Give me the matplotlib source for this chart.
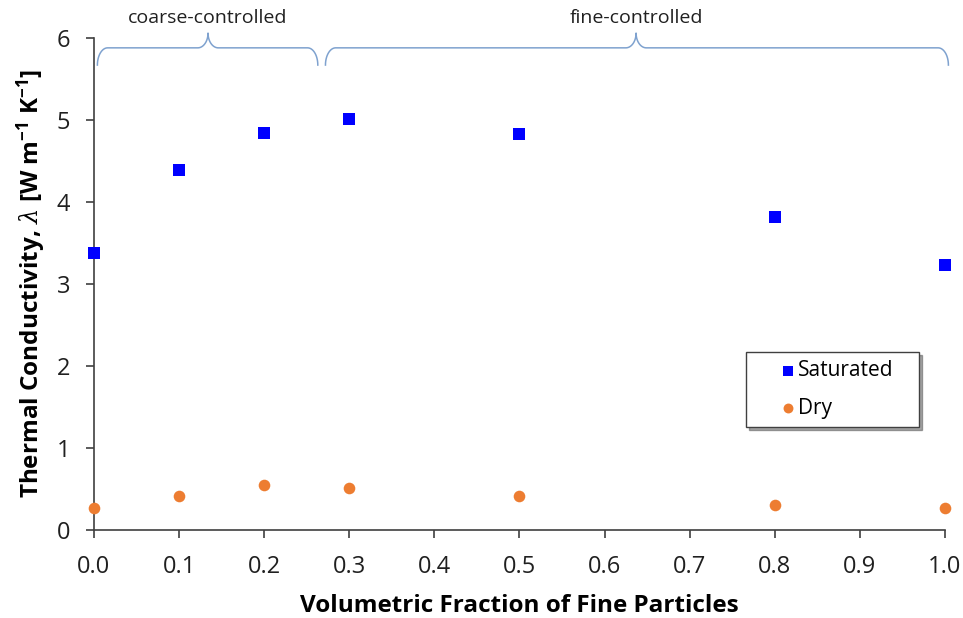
import matplotlib
matplotlib.use("Agg")
import matplotlib.pyplot as plt
import numpy as np

plt.rcParams['font.family'] = ['Open Sans', 'DejaVu Sans']
plt.rcParams['mathtext.fontset'] = 'custom'
plt.rcParams['mathtext.rm'] = 'Open Sans'
plt.rcParams['mathtext.bf'] = 'Open Sans:bold'
plt.rcParams['mathtext.it'] = 'DejaVu Serif:italic'

fraction = [0.0, 0.1, 0.2, 0.3, 0.5, 0.8, 1.0]
saturated = [3.38, 4.39, 4.84, 5.01, 4.83, 3.82, 3.23]
dry = [0.27, 0.41, 0.55, 0.51, 0.41, 0.30, 0.27]
xticks = [0.0, 0.1, 0.2, 0.3, 0.4, 0.5, 0.6, 0.7, 0.8, 0.9, 1.0]
yticks = [0, 1, 2, 3, 4, 5, 6]
regions = ["coarse-controlled", "fine-controlled"]
region_spans = [(0.004, 0.263), (0.272, 1.004)]
region_tips = [0.134, 0.637]

fig = plt.figure(figsize=(9.63, 6.18), dpi=100)
ax = fig.add_axes([0.0976, 0.1424, 0.8837, 0.7961])

ax.scatter(fraction, saturated, marker='s', s=70, color='#0000FF', label='Saturated', zorder=3, linewidths=0, clip_on=False)
ax.scatter(fraction, dry, marker='o', s=70, color='#ED7D31', label='Dry', zorder=3, linewidths=0, clip_on=False)

ax.set_xlim(0, 1.0)
ax.set_ylim(0, 6)
ax.set_xticks(xticks)
ax.set_xticklabels([f"{v:.1f}" for v in xticks])
ax.set_yticks(yticks)
ax.spines['top'].set_visible(False)
ax.spines['right'].set_visible(False)
for s in ['left', 'bottom']:
    ax.spines[s].set_color('#404040')
    ax.spines[s].set_linewidth(1.2)
ax.tick_params(axis='both', direction='out', length=6, width=1.2, color='#404040', labelsize=17, labelcolor='#202020')
ax.tick_params(axis='x', pad=12)
ax.tick_params(axis='y', pad=11)

ax.set_xlabel('Volumetric Fraction of Fine Particles', fontsize=17.5, fontweight='bold', labelpad=11)
ax.set_ylabel(r'Thermal Conductivity, $\lambda$ [W m$^{\mathbf{-1}}$ K$^{\mathbf{-1}}$]', fontsize=17.5, fontweight='bold', labelpad=6)

# curly braces
def brace(x0, x1, xt, ybase=5.88, yend=5.67, ytip=6.06, color='#7FA2CF'):
    r = 0.012
    t = np.linspace(0, np.pi / 2, 20)
    xs = list(x0 + r - r * np.cos(t))
    ys = list(yend + (ybase - yend) * np.sin(t))
    xs += [xt - r]
    ys += [ybase]
    xs += list(xt - r + r * np.sin(t))
    ys += list(ybase + (ytip - ybase) * (1 - np.cos(t)))
    xs += list(xt + r * (1 - np.cos(t)))
    ys += list(ytip - (ytip - ybase) * np.sin(t))
    xs += [x1 - r]
    ys += [ybase]
    xs += list(x1 - r + r * np.sin(t))
    ys += list(ybase - (ybase - yend) * (1 - np.cos(t)))
    ax.plot(xs, ys, color=color, lw=1.1, clip_on=False, zorder=2)

for (a, b), tip, lab in zip(region_spans, region_tips, regions):
    brace(a, b, tip)
    ax.text(tip, 6.135, lab, ha='center', va='bottom', fontsize=14, color='#202020', clip_on=False)

leg = ax.legend(loc='upper left', bbox_to_anchor=(0.766, 0.213, 0.204, 0.149), mode='expand',
                fontsize=15, frameon=True,
                fancybox=False, shadow=True, handletextpad=-1.2, borderpad=0.4, labelspacing=0.8,
                handlelength=3.28, borderaxespad=0, markerscale=0.85)
leg.get_frame().set_edgecolor('#404040')
leg.get_frame().set_linewidth(1.0)

fig.savefig('out.png', dpi=100)
